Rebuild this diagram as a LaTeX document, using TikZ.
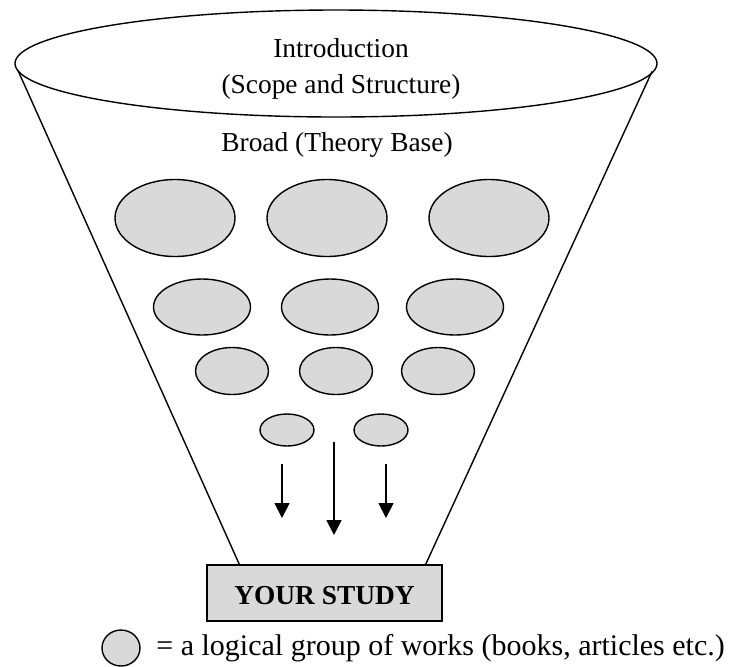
\documentclass[tikz,border=0pt]{standalone}
\usepackage{fontspec}
\setmainfont{Liberation Serif}
\usetikzlibrary{positioning,arrows.meta,shapes.geometric,calc}
\definecolor{blob}{HTML}{D9D9D9}

\begin{document}
\begin{tikzpicture}[x=0.5pt,y=-0.5pt,
  txt/.style={font=\fontsize{13.7}{18}\selectfont,align=center,inner sep=0pt},
  group/.style={ellipse,draw,line width=0.7pt,fill=blob,inner sep=0pt},
  big/.style={group,minimum width=60pt,minimum height=38.5pt},
  mid/.style={group,minimum width=48.5pt,minimum height=28pt},
  small/.style={group,minimum width=36.5pt,minimum height=23.5pt},
  tiny/.style={group,minimum width=27pt,minimum height=16pt},
  flow/.style={-{Triangle[length=7.5pt,width=7.5pt]},line width=0.9pt}]
\useasboundingbox (0,0) rectangle (745,666);
% funnel mouth
\node[ellipse,draw,line width=0.7pt,minimum width=321pt,minimum height=53.5pt,inner sep=0pt] (intro) at (336,63.5) {};
\node[txt] (introtxt) at (341,68.5) {Introduction\\(Scope and Structure)};
\node[txt] (broad) at (337,145) {Broad (Theory Base)};
% groups of works, row by row
\node[big] (g11) at (175,218) {};
\node[big] (g12) at (327,218) {};
\node[big] (g13) at (489,218) {};
\node[mid] (g21) at (202,307) {};
\node[mid] (g22) at (330,307) {};
\node[mid] (g23) at (455,307) {};
\node[small] (g31) at (232,371) {};
\node[small] (g32) at (336,371) {};
\node[small] (g33) at (438,371) {};
\node[tiny] (g41) at (287,430) {};
\node[tiny] (g42) at (381,430) {};
% target box
\node[draw,line width=0.7pt,fill=blob,minimum width=117.5pt,minimum height=28pt,txt,text height=11pt,text depth=0pt,font=\fontsize{13.7}{16}\selectfont\bfseries] (study) at (324.5,593) {YOUR STUDY};
% funnel walls
\draw[line width=0.7pt] ($(intro.center)+(-318,7)$) -- ([xshift=16.5pt]study.north west);
\draw[line width=0.7pt] ($(intro.center)+(316,8)$) -- ([xshift=-8.5pt]study.north east);
% arrows
\coordinate (a1) at (282,464); \coordinate (b1) at (282,518);
\coordinate (a2) at (334,442); \coordinate (b2) at (334,535);
\coordinate (a3) at (386,464); \coordinate (b3) at (386,518);
\draw[flow] (a1) -- (b1);
\draw[flow] (a2) -- (b2);
\draw[flow] (a3) -- (b3);
% legend
\node[group,minimum width=19pt,minimum height=18pt] (key) at (121,648) {};
\node[txt,anchor=west,font=\fontsize{15}{18}\selectfont] (keytxt) at (156,648) {= a logical group of works (books, articles etc.)};
\end{tikzpicture}
\end{document}
